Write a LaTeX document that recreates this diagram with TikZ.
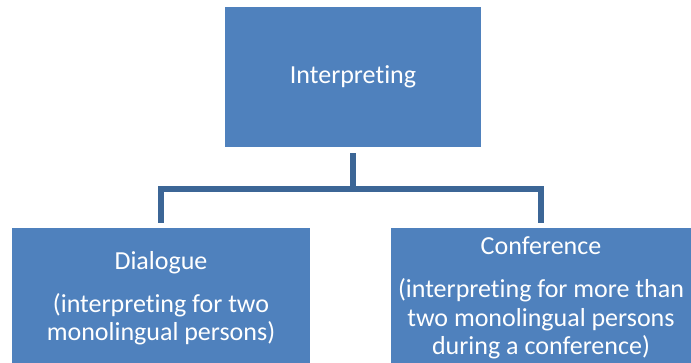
\documentclass[tikz,border=0pt]{standalone}
\usepackage{fontspec}
\setmainfont{Carlito}[Ligatures=NoCommon]
\usepackage{xcolor}
\definecolor{boxblue}{HTML}{4F81BD}
\definecolor{linkblue}{HTML}{3C6696}
\tikzset{
    blue-box/.style = {fill=boxblue, text=white, rectangle, inner sep=0pt, minimum height=140pt, align=center, font=\fontsize{26}{28.5}\selectfont},
    tree-link/.style = {draw=linkblue, line width=6pt, shorten <=6pt, shorten >=5pt},
}

\begin{document}
\begin{tikzpicture}[x=1pt, y=-1pt]
\path[use as bounding box, clip] (0,0) rectangle (691,362);
\node[blue-box, minimum width=256pt] (interp) at (353,77) {Interpreting};
\node[blue-box, minimum width=298pt] (dialogue) at (161,298) {Dialogue\\[14.5pt](interpreting for two\\monolingual persons)};
\node[blue-box, minimum width=300pt] (conference) at (541,298) {Conference\\[14.5pt](interpreting for more than\\two monolingual persons\\during a conference)};
\coordinate (fork) at (353,189);
\draw[tree-link] (interp.south) |- (fork) -| (dialogue.north);
\draw[tree-link] (interp.south) |- (fork) -| (conference.north);
\end{tikzpicture}
\end{document}
